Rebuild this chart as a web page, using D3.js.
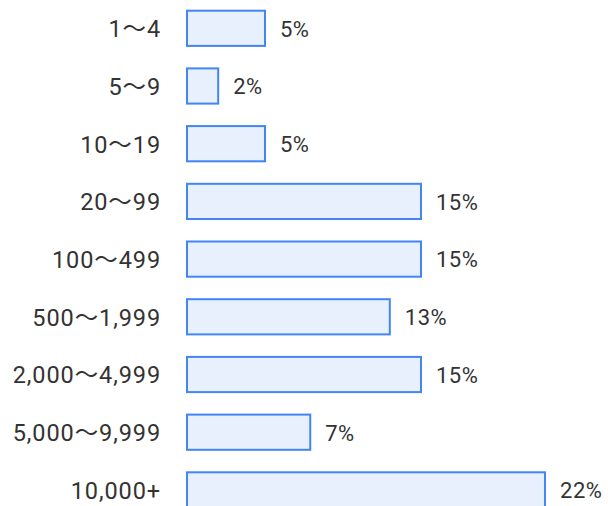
<!DOCTYPE html>
<html>
<head>
<meta charset="utf-8">
<script src="https://cdn.jsdelivr.net/npm/d3@7"></script>
<style>
  body { margin: 0; background: #fff; }
  text { font-family: Roboto, "Noto Sans CJK JP", sans-serif; fill: #333; }
</style>
</head>
<body>
<div id="chart"></div>
<script>
const categories = ['1～4', '5～9', '10～19', '20～99', '100～499', '500～1,999', '2,000～4,999', '5,000～9,999', '10,000+'];
const shares = [5.0, 2.0, 5.0, 15.0, 15.0, 13.0, 15.0, 7.9, 22.95];

const width = 608, height = 506;
const svg = d3.select('#chart').append('svg')
  .attr('width', width)
  .attr('height', height);

const x = d3.scaleLinear()
  .domain([0, 25])
  .range([187, 187 + 390]);

const y = d3.scaleBand()
  .domain(categories)
  .range([10.7, 507.5])
  .paddingInner(0.39)
  .paddingOuter(0);

const yAxis = d3.axisLeft(y).tickSize(0).tickPadding(26);

const axisG = svg.append('g')
  .attr('transform', `translate(${x(0)},0)`)
  .call(yAxis);
axisG.select('.domain').remove();
axisG.selectAll('text')
  .attr('dy', '0.375em')
  .style('font-size', '23.5px')
  .style('letter-spacing', '0.9px')
  .style('font-family', 'Roboto, "Noto Sans CJK JP", sans-serif')
  .attr('fill', '#333');

const rows = d3.zip(categories, shares);

svg.append('g').selectAll('rect')
  .data(rows)
  .join('rect')
  .attr('x', x(0))
  .attr('y', d => y(d[0]))
  .attr('width', d => x(d[1]) - x(0))
  .attr('height', y.bandwidth())
  .attr('fill', '#e8f0fe')
  .attr('stroke', '#4285f4')
  .attr('stroke-width', 2);

svg.append('g').selectAll('text')
  .data(rows)
  .join('text')
  .attr('x', d => x(d[1]) + 15)
  .attr('y', d => y(d[0]) + y.bandwidth() / 2)
  .attr('dy', '0.38em')
  .style('font-size', '22px')
  .style('letter-spacing', '0.5px')
  .text(d => Math.floor(d[1]) + '%');
</script>
</body>
</html>
